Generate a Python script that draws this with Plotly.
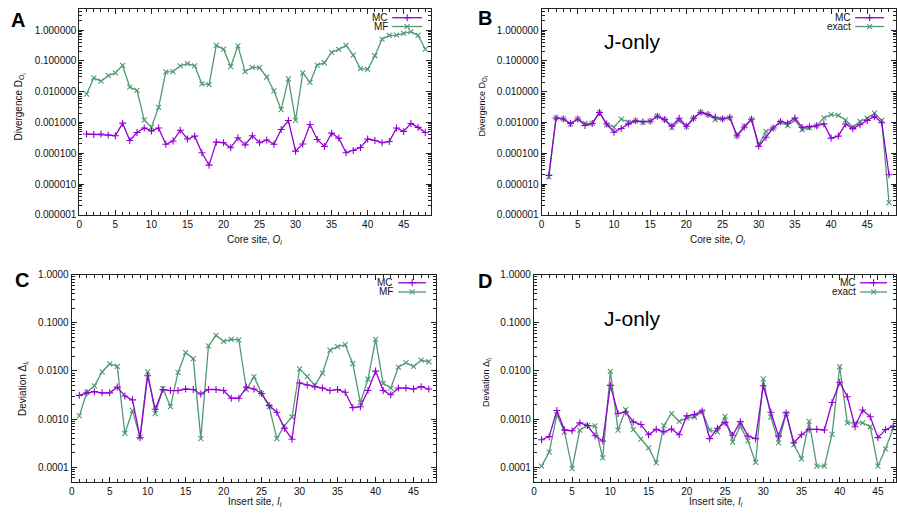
import plotly.graph_objects as go

W, H = 897, 523

# ---------------- data ----------------
core_sites = list(range(1, 49))
insert_sites = list(range(1, 48))

A_MC = [0.00042, 0.00041, 0.00042, 0.00039, 0.00037, 0.00095, 0.00026, 0.00047, 0.00066, 0.00053,
        0.00066, 0.000195, 0.00025, 0.00056, 0.00029, 0.00036, 0.000104, 0.000041, 0.00023, 0.00022,
        0.000150, 0.00032, 0.000187, 0.00037, 0.00022, 0.00027, 0.000195, 0.00059, 0.00116, 0.000117,
        0.0002, 0.00086, 0.00028, 0.000165, 0.00045, 0.00031, 0.000104, 0.000123, 0.000153, 0.00029,
        0.00026, 0.00022, 0.00024, 0.00066, 0.00051, 0.00093, 0.00069, 0.00047]
A_MF = [0.0083, 0.028, 0.022, 0.033, 0.041, 0.071, 0.014, 0.011, 0.0012, 0.0007,
        0.0031, 0.044, 0.045, 0.069, 0.082, 0.069, 0.018, 0.017, 0.32, 0.24,
        0.065, 0.31, 0.045, 0.062, 0.060, 0.030, 0.0106, 0.0026, 0.026, 0.00116,
        0.041, 0.020, 0.073, 0.087, 0.19, 0.235, 0.32, 0.155, 0.056, 0.053,
        0.147, 0.51, 0.67, 0.69, 0.78, 0.89, 0.67, 0.24]

B_MC = [1.9e-5, 0.0014, 0.0013, 0.00093, 0.0013, 0.0008, 0.00093, 0.0021, 0.00089, 0.00048,
        0.00064, 0.0009, 0.00113, 0.00105, 0.0011, 0.00159, 0.00124, 0.00076, 0.00137, 0.00075,
        0.00137, 0.00213, 0.0018, 0.00148, 0.0013, 0.00148, 0.00037, 0.00071, 0.00127, 0.000169,
        0.00033, 0.00066, 0.00108, 0.00095, 0.0014, 0.00069, 0.00073, 0.00078, 0.0009, 0.00031,
        0.00036, 0.00089, 0.00063, 0.00084, 0.00116, 0.0016, 0.00098, 2.0e-5]
B_EXACT = [1.7e-5, 0.00142, 0.00131, 0.00089, 0.0013, 0.00093, 0.00093, 0.0021, 0.00084, 0.00071,
           0.00128, 0.00102, 0.00113, 0.001, 0.0011, 0.00159, 0.00124, 0.00068, 0.00113, 0.00073,
           0.00137, 0.00213, 0.0018, 0.00124, 0.0013, 0.00142, 0.00037, 0.00076, 0.00127, 0.00019,
           0.00051, 0.00066, 0.00102, 0.00079, 0.0012, 0.00058, 0.00068, 0.00078, 0.0014, 0.0018,
           0.0017, 0.0012, 0.00071, 0.00108, 0.00137, 0.002, 0.00116, 2.5e-6]

C_MC = [0.0031, 0.0035, 0.0037, 0.0035, 0.0035, 0.0046, 0.0030, 0.0025, 0.00041, 0.0079,
        0.0016, 0.0041, 0.0039, 0.0039, 0.0042, 0.0041, 0.0033, 0.0041, 0.0041, 0.0039,
        0.0027, 0.0027, 0.0046, 0.0042, 0.0034, 0.0019, 0.00138, 0.00064, 0.00038, 0.0056,
        0.0051, 0.0047, 0.0044, 0.0039, 0.0041, 0.0036, 0.00172, 0.0018, 0.0039, 0.0099,
        0.0039, 0.0032, 0.0044, 0.0044, 0.0042, 0.0047, 0.0042]
C_MF = [0.00116, 0.0036, 0.0049, 0.0095, 0.014, 0.0124, 0.0005, 0.00149, 0.00042, 0.0095,
        0.0013, 0.0043, 0.0018, 0.0093, 0.024, 0.018, 0.00039, 0.033, 0.055, 0.041,
        0.045, 0.044, 0.0041, 0.0076, 0.0034, 0.0018, 0.00039, 0.00073, 0.0011, 0.011,
        0.0076, 0.0050, 0.0090, 0.027, 0.032, 0.035, 0.0141, 0.0022, 0.0067, 0.045,
        0.0055, 0.0044, 0.012, 0.0148, 0.0124, 0.0167, 0.0155]

D_MC = [0.00037, 0.00043, 0.0015, 0.00059, 0.00057, 0.00083, 0.00073, 0.00045, 0.00035, 0.0050,
        0.0013, 0.0014, 0.00087, 0.00077, 0.00047, 0.00061, 0.00054, 0.00062, 0.00047, 0.00116,
        0.00124, 0.00147, 0.00039, 0.00064, 0.00085, 0.00046, 0.00088, 0.00044, 0.00039, 0.0049,
        0.00138, 0.00044, 0.00134, 0.00032, 0.00047, 0.00061, 0.00061, 0.00059, 0.0022, 0.0058,
        0.0029, 0.00069, 0.00154, 0.00111, 0.00041, 0.0006, 0.00071]
D_EXACT = [0.000105, 0.000205, 0.00122, 0.00054, 0.000093, 0.00059, 0.00073, 0.00072, 0.000155, 0.0098,
           0.00059, 0.00157, 0.0006, 0.00038, 0.00025, 0.000123, 0.00073, 0.0013, 0.00089, 0.00105,
           0.0011, 0.00143, 0.00059, 0.00054, 0.00113, 0.00033, 0.00071, 0.00035, 0.000125, 0.0068,
           0.0011, 0.00032, 0.0013, 0.00029, 0.000148, 0.00089, 0.000105, 0.000105, 0.00048, 0.0122,
           0.00083, 0.00083, 0.00083, 0.00069, 0.000105, 0.00024, 0.00064]

top_tickvals = [1e-6, 1e-5, 1e-4, 1e-3, 1e-2, 1e-1, 1.0]
top_ticktext = ["0.000001", "0.000010", "0.000100", "0.001000", "0.010000", "0.100000", "1.000000"]
bot_tickvals = [1e-4, 1e-3, 1e-2, 1e-1, 1.0]
bot_ticktext = ["0.0001", "0.0010", "0.0100", "0.1000", "1.0000"]
x_tickvals = [0, 5, 10, 15, 20, 25, 30, 35, 40, 45]

# ---------------- styling ----------------
PURPLE = "#9400d3"
GREEN = "#4f9a72"
FONT = "Liberation Sans, Arial, Helvetica, sans-serif"
AX = "#222"


def px(x):
    return x / W


def py(y):
    return 1 - y / H


fig = go.Figure()


def add_pair(xs, y1, y2, n):
    xa = "x" if n == 1 else f"x{n}"
    ya = "y" if n == 1 else f"y{n}"
    fig.add_trace(go.Scatter(x=xs, y=y2, mode="lines+markers", xaxis=xa, yaxis=ya,
                             line=dict(color=GREEN, width=1.3),
                             marker=dict(symbol="x-thin", size=5, line=dict(color=GREEN, width=1.1)),
                             showlegend=False))
    fig.add_trace(go.Scatter(x=xs, y=y1, mode="lines+markers", xaxis=xa, yaxis=ya,
                             line=dict(color=PURPLE, width=1.3),
                             marker=dict(symbol="cross-thin", size=5, line=dict(color=PURPLE, width=1.1)),
                             showlegend=False))


add_pair(core_sites, A_MC, A_MF, 1)
add_pair(core_sites, B_MC, B_EXACT, 2)
add_pair(insert_sites, C_MC, C_MF, 3)
add_pair(insert_sites, D_MC, D_EXACT, 4)

# panel geometry in pixels: (left, right, top, bottom, xrange, log yrange)
panels = {
    1: (76.7, 430.0, 2.7, 213.7, [0, 48.8], [-6, 0.698]),
    2: (541.0, 896.5, 2.7, 213.7, [0, 48.9], [-6, 0.698]),
    3: (69.0, 435.3, 275.0, 486.7, [0, 48], [-4.30, 0]),
    4: (533.3, 896.5, 275.0, 486.7, [0, 47.3], [-4.30, 0]),
}

top_minor = [m * 10 ** e for e in range(-6, 1) for m in range(2, 10)]
bot_minor = [m * 10 ** e for e in range(-5, 0) for m in range(2, 10)]

layout_axes = {}
for n, (l, r, t, b, xr, yr) in panels.items():
    sfx = "" if n == 1 else str(n)
    is_top = n in (1, 2)
    layout_axes["xaxis" + sfx] = dict(
        domain=[px(l), px(r)], range=xr, anchor="y" + sfx,
        tickmode="array", tickvals=x_tickvals, ticks="inside", ticklen=5,
        tickcolor=AX, showline=True, linecolor=AX, linewidth=1, mirror="allticks",
        showgrid=False, zeroline=False,
        tickfont=dict(family=FONT, size=10, color="#111"),
        minor=dict(tickmode="linear", tick0=0, dtick=1, ticks="inside", ticklen=3,
                   tickcolor=AX, showgrid=False),
    )
    layout_axes["yaxis" + sfx] = dict(
        domain=[py(b), py(t)], range=yr, anchor="x" + sfx, type="log",
        tickmode="array",
        tickvals=top_tickvals if is_top else bot_tickvals,
        ticktext=top_ticktext if is_top else bot_ticktext,
        ticks="inside", ticklen=5, tickcolor=AX,
        showline=True, linecolor=AX, linewidth=1, mirror="allticks",
        showgrid=False, zeroline=False,
        tickfont=dict(family=FONT, size=10, color="#111"),
        minor=dict(tickmode="array", tickvals=top_minor if is_top else bot_minor,
                   ticks="inside", ticklen=3, tickcolor=AX, showgrid=False),
    )

# overlay pixel axis for legend samples
layout_axes["xaxis5"] = dict(domain=[0, 1], range=[0, W], visible=False, anchor="y5")
layout_axes["yaxis5"] = dict(domain=[0, 1], range=[H, 0], visible=False, anchor="x5")

legend_specs = [
    # (text right x, line x0, line x1, y1, y2, label2)
    (388, 391, 421, 12, 21, "MF"),
    (853, 856, 885, 12, 21, "exact"),
    (393, 397, 425, 283.3, 292.7, "MF"),
    (858, 861, 888, 283.3, 292.7, "exact"),
]

annotations = []
for (tx, x0, x1, y1, y2, lab2) in legend_specs:
    for (yy, col, sym, lab) in [(y1, PURPLE, "cross-thin", "MC"), (y2, GREEN, "x-thin", lab2)]:
        fig.add_trace(go.Scatter(x=[x0, x1], y=[yy, yy], mode="lines",
                                 xaxis="x5", yaxis="y5", showlegend=False, hoverinfo="skip",
                                 line=dict(color=col, width=1.3)))
        fig.add_trace(go.Scatter(x=[(x0 + x1) / 2], y=[yy], mode="markers",
                                 xaxis="x5", yaxis="y5", showlegend=False, hoverinfo="skip",
                                 marker=dict(symbol=sym, size=5, color=col, line=dict(color=col, width=1.1))))
        annotations.append(dict(x=px(tx), y=py(yy), xref="paper", yref="paper", text=lab,
                                showarrow=False, xanchor="right", yanchor="middle", borderpad=0,
                                font=dict(family=FONT, size=10, color="#111")))

# panel letters
for (lab, x, y) in [("A", 15, 14), ("B", 484, 12), ("C", 19, 280), ("D", 484, 281)]:
    annotations.append(dict(x=px(x), y=py(y), xref="paper", yref="paper", text=f"<b>{lab}</b>",
                            showarrow=False, xanchor="center", yanchor="middle",
                            font=dict(family=FONT, size=20, color="#000")))

# J-only labels
for y in (36, 320):
    annotations.append(dict(x=px(632), y=py(y), xref="paper", yref="paper", text="J-only",
                            showarrow=False, xanchor="center", yanchor="middle",
                            font=dict(family=FONT, size=21, color="#000")))

# axis titles
for (txt, x, y) in [("Core site, <i>O<sub>i</sub></i>", 253, 239),
                    ("Core site, <i>O<sub>i</sub></i>", 718, 239),
                    ("Insert site, <i>I<sub>i</sub></i>", 253, 508),
                    ("Insert site, <i>I<sub>i</sub></i>", 716, 508)]:
    annotations.append(dict(x=px(x), y=py(y), xref="paper", yref="paper", text=txt,
                            showarrow=False, xanchor="center", yanchor="middle",
                            font=dict(family=FONT, size=10, color="#111")))

for (txt, x, y, s) in [("Divergence D<sub>O<sub>i</sub></sub>", 17, 103, 10),
                       ("Divergence D<sub>O<sub>i</sub></sub>", 482, 103, 9),
                       ("Deviation Δ<sub><i>I<sub>i</sub></i></sub>", 21, 391, 10),
                       ("Deviation Δ<sub><i>I<sub>i</sub></i></sub>", 486, 385, 9)]:
    annotations.append(dict(x=px(x), y=py(y), xref="paper", yref="paper", text=txt, textangle=-90,
                            showarrow=False, xanchor="center", yanchor="middle",
                            font=dict(family=FONT, size=s, color="#111")))

fig.update_layout(
    width=W, height=H,
    margin=dict(l=0, r=0, t=0, b=0),
    paper_bgcolor="white", plot_bgcolor="rgba(0,0,0,0)",
    showlegend=False,
    annotations=annotations,
    **layout_axes,
)

fig.write_html("out.html",
               config={"displayModeBar": False, "staticPlot": True},
               post_script="document.body.style.margin='0px';document.body.style.overflow='hidden';")
